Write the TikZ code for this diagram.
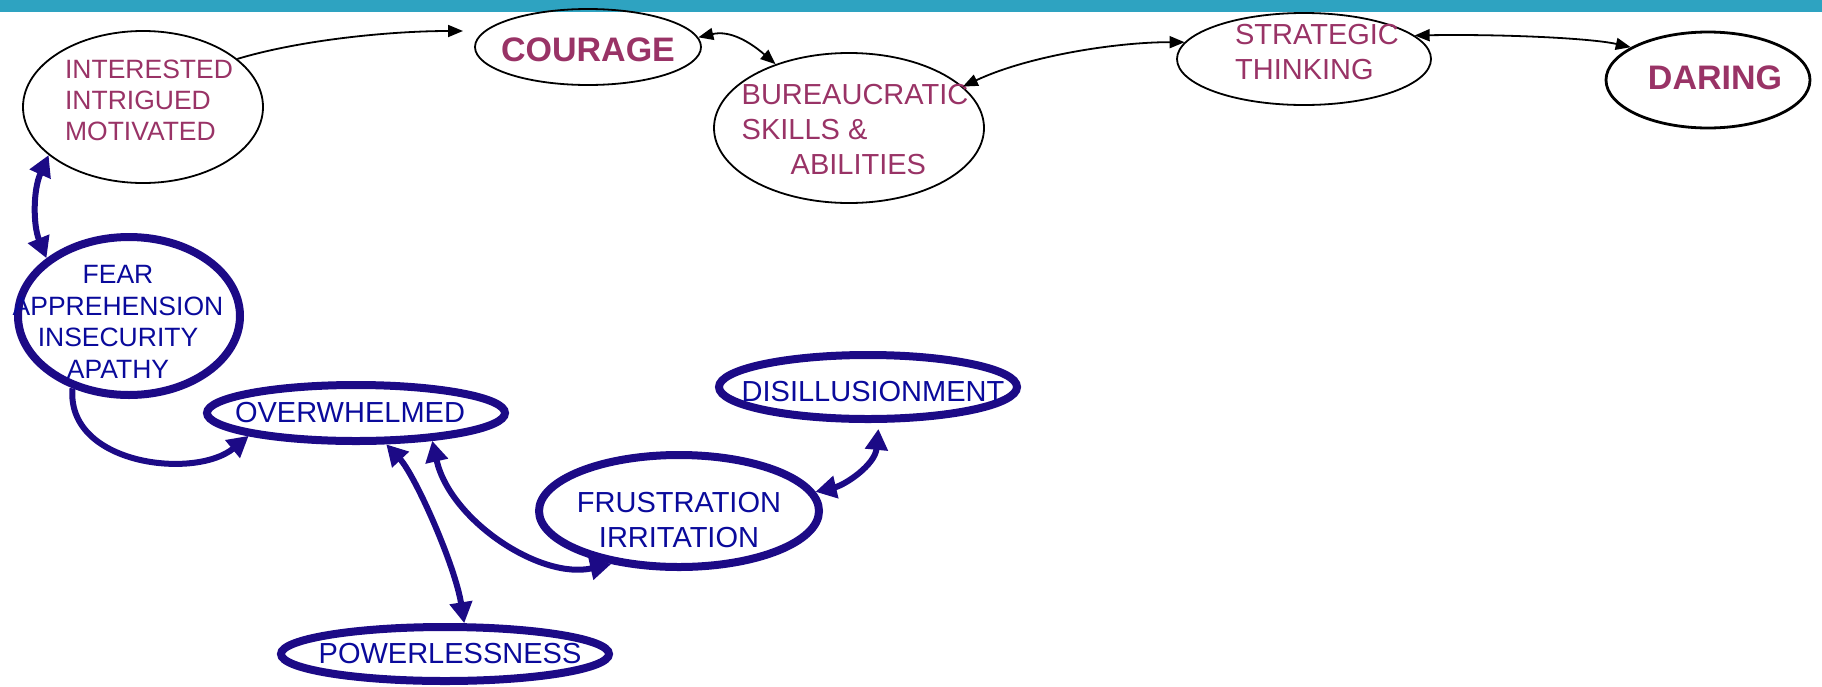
\documentclass[tikz,border=0pt]{standalone}
\usepackage{fontspec}
\setmainfont{Liberation Sans}
\usetikzlibrary{arrows.meta,shapes.geometric}

\definecolor{barteal}{RGB}{46,163,193}
\definecolor{goodred}{RGB}{153,51,102}
\definecolor{badblue}{RGB}{10,10,155}
\definecolor{ovalblue}{RGB}{28,10,134}

\begin{document}
\begin{tikzpicture}[x=1pt,y=1pt,yscale=-1,
  oval/.style = {draw, ellipse, line width=1.8pt, inner sep=0pt},
  badoval/.style = {draw=ovalblue, ellipse, line width=8pt, inner sep=0pt},
  goodtxt/.style = {text=goodred, font=\fontsize{29}{35}\selectfont, align=left},
  badtxt/.style = {text=badblue, font=\fontsize{29}{35}\selectfont, align=center},
  bigtxt/.style = {text=goodred, font=\fontsize{34}{40}\selectfont\bfseries},
  blk/.style = {line width=1.8pt, >={Triangle[length=15pt,width=12pt]}},
  blu/.style = {draw=ovalblue, line width=6pt, >={Triangle[length=21pt,width=22pt]}}
  ]
  \useasboundingbox (0,0) rectangle (1822,686);
  \fill[barteal] (0,0) rectangle (1822,12);

  % the good side
  \node[oval, minimum width=240pt, minimum height=152pt,
    label={[goodtxt, font=\fontsize{26.5}{31}\selectfont, shift={(6,7)}]center:{INTERESTED\\INTRIGUED\\MOTIVATED}}] (int) at (143,107) {};
  \node[oval, minimum width=226pt, minimum height=76pt,
    label={[bigtxt, shift={(0,-3)}]center:COURAGE}] (cou) at (588,47) {};
  \node[oval, minimum width=270pt, minimum height=150pt,
    label={[goodtxt, shift={(6,-2)}]center:{BUREAUCRATIC\\SKILLS \&\\\hspace*{49pt}ABILITIES}}] (bur) at (849,128) {};
  \node[oval, minimum width=254pt, minimum height=92pt,
    label={[goodtxt, shift={(13,7)}]center:{STRATEGIC\\THINKING}}] (str) at (1304,59) {};
  \node[oval, line width=2.8pt, minimum width=204pt, minimum height=96pt,
    label={[bigtxt, shift={(7,2)}]center:DARING}] (dar) at (1708,80) {};

  % the bad side
  \node[badoval, minimum width=222pt, minimum height=158pt,
    label={[badtxt, font=\fontsize{26.5}{31.7}\selectfont, shift={(-11,-6)}]center:{FEAR\\APPREHENSION\\INSECURITY\\APATHY}}] (fear) at (129,316) {};
  \node[badoval, minimum width=298pt, minimum height=56pt,
    label={[badtxt, shift={(-6,0)}]center:OVERWHELMED}] (ovr) at (356,413) {};
  \node[badoval, minimum width=298pt, minimum height=64pt,
    label={[badtxt, shift={(5,-5)}]center:DISILLUSIONMENT}] (dis) at (868,387) {};
  \node[badoval, minimum width=280pt, minimum height=112pt,
    label={[badtxt, shift={(0,-9)}]center:{FRUSTRATION\\IRRITATION}}] (fru) at (679,511) {};
  \node[badoval, minimum width=328pt, minimum height=54pt,
    label={[badtxt, shift={(5,0)}]center:POWERLESSNESS}] (pow) at (445,654) {};

  \coordinate (cou-in) at (463,31);
  \draw[blk, ->] (int.27) .. controls (300,40) and (390,31) .. (cou-in);
  \draw[blk, <->] (cou.5) .. controls (730,30) and (750,42) .. (bur.139);
  \draw[blk, <->] (bur.20) .. controls (1030,55) and (1120,42) .. (str.172);
  \draw[blk, <->] (str.12) .. controls (1500,34) and (1590,38) .. (dar.157);

  \draw[blu, <->] (int.207) .. controls (33,190) and (33,225) .. (fear.145);
  \draw[blu, ->] (fear.232) .. controls (66,465) and (195,480) .. (ovr.192);
  \draw[blu, <->] (ovr.314) .. controls (415,475) and (455,565) .. (pow.58);
  \draw[blu, <->] (ovr.340) .. controls (450,520) and (540,580) .. (fru.218);
  \draw[blu, <->, shorten >=6pt] (fru.8) .. controls (845,485) and (875,465) .. (dis.287);

\end{tikzpicture}
\end{document}
